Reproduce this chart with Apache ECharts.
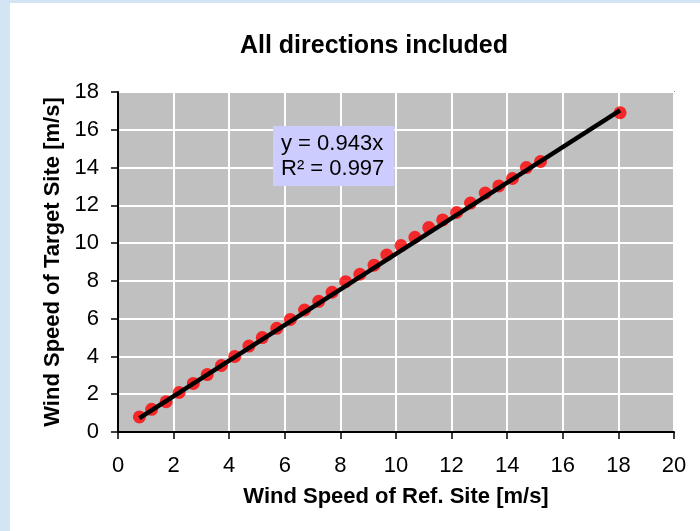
<!DOCTYPE html>
<html>
<head>
<meta charset="utf-8">
<script src="https://cdn.jsdelivr.net/npm/echarts@6/dist/echarts.min.js"></script>
<style>
  html, body { margin: 0; padding: 0; background: #d3e5f5; }
  #main { position: absolute; left: 10px; top: 3px; width: 690px; height: 528px; background: #fff; }
</style>
</head>
<body>
<div id="main"></div>
<script>
// wind speed pairs (m/s)
const refSpeed = [0.77, 1.21, 1.73, 2.2, 2.71, 3.21, 3.72, 4.2, 4.71, 5.19, 5.71, 6.2, 6.71, 7.22, 7.7, 8.19, 8.7, 9.21,
  9.67, 10.18, 10.68, 11.18, 11.68, 12.18, 12.68, 13.21, 13.7, 14.19, 14.69, 15.2, 18.06];
const targetSpeed = [0.8, 1.2, 1.6, 2.09, 2.57, 3.04, 3.52, 4.0, 4.55, 5.0, 5.49, 5.96, 6.46, 6.92, 7.4, 7.96, 8.35, 8.83,
  9.37, 9.87, 10.31, 10.82, 11.23, 11.62, 12.12, 12.65, 13.03, 13.42, 14.0, 14.32, 16.9];
// trend line ends (y = 0.943x)
const trendX = [0.77, 18.06];
const trendY = [0.73, 17.03];
const xTicks = [0, 2, 4, 6, 8, 10, 12, 14, 16, 18, 20];
const yTicks = [0, 2, 4, 6, 8, 10, 12, 14, 16, 18];

const font = '"Liberation Sans", Arial, sans-serif';
const chart = echarts.init(document.getElementById('main'));

const option = {
  animation: false,
  title: {
    text: 'All directions included',
    left: 359, top: 26, textAlign: 'center',
    textStyle: { fontFamily: font, fontSize: 25, fontWeight: 'bold', color: '#000' }
  },
  grid: {
    left: 108, top: 89, right: 26, bottom: 99,
    show: true, backgroundColor: '#c0c0c0', borderColor: '#888', borderWidth: 2
  },
  xAxis: {
    type: 'value', min: xTicks[0], max: xTicks[xTicks.length - 1], interval: 2,
    name: 'Wind Speed of Ref. Site [m/s]', nameLocation: 'middle', nameGap: 54,
    nameTextStyle: { fontFamily: font, fontSize: 22, fontWeight: 'bold', color: '#000' },
    axisLine: { show: true, onZero: false, lineStyle: { color: '#000', width: 2 } },
    axisTick: { show: true, length: 7, lineStyle: { color: '#000', width: 1.5 } },
    axisLabel: { fontFamily: font, fontSize: 22, color: '#000', margin: 23 },
    splitLine: { show: true, lineStyle: { color: '#fff', width: 2 } }
  },
  yAxis: {
    type: 'value', min: yTicks[0], max: yTicks[yTicks.length - 1], interval: 2,
    name: 'Wind Speed of Target Site [m/s]', nameLocation: 'middle', nameGap: 54,
    nameTextStyle: { fontFamily: font, fontSize: 22, fontWeight: 'bold', color: '#000' },
    axisLine: { show: true, onZero: false, lineStyle: { color: '#000', width: 2 } },
    axisTick: { show: true, length: 7, lineStyle: { color: '#000', width: 1.5 } },
    axisLabel: { fontFamily: font, fontSize: 22, color: '#000', margin: 19 },
    splitLine: { show: true, lineStyle: { color: '#fff', width: 2 } }
  },
  graphic: [{
    type: 'text', left: 263, top: 123, z: 100,
    style: {
      text: 'y = 0.943x\nR² = 0.997', font: '22px "Liberation Sans", Arial, sans-serif',
      lineHeight: 25, fill: '#000',
      backgroundColor: '#ccccff', padding: [5, 10, 5, 8]
    }
  }],
  series: [
    {
      type: 'scatter', symbol: 'circle', symbolSize: 13,
      itemStyle: { color: '#ff0000' },
      data: refSpeed.map((x, i) => [x, targetSpeed[i]]), z: 2
    },
    {
      type: 'line', symbol: 'none', silent: true,
      lineStyle: { color: '#000', width: 4.5 },
      data: trendX.map((x, i) => [x, trendY[i]]), z: 3
    }
  ]
};
chart.setOption(option);
</script>
</body>
</html>
